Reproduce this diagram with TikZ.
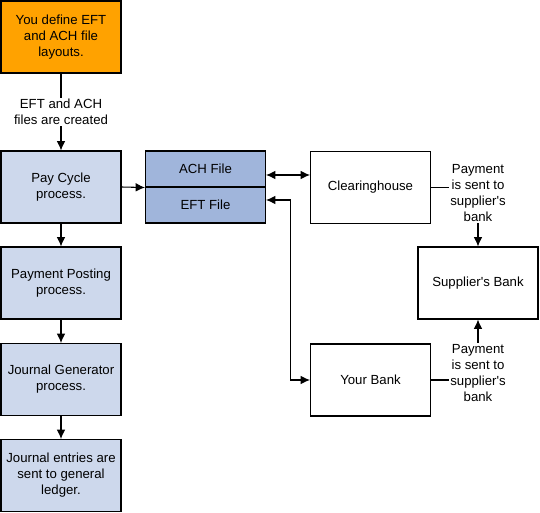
\documentclass[tikz,border=0pt]{standalone}
\usepackage{fontspec}
\setmainfont{Liberation Sans}
\usetikzlibrary{arrows, arrows.meta, calc, positioning}

\definecolor{orangebox}{RGB}{255,162,0}
\definecolor{paleblue}{RGB}{205,216,236}
\definecolor{fileblue}{RGB}{160,181,219}

\begin{document}
\begin{tikzpicture}[>={Latex[length=7pt,width=6.5pt]}, x=0.75pt, y=-0.75pt,
	font=\fontsize{9.9}{12}\selectfont]
    \tikzstyle{box} = [draw, line width=0.8pt, minimum width=90pt, minimum height=54pt,
	align=center, inner sep=0pt]
    \tikzstyle{proc} = [box, fill=paleblue]
    \tikzstyle{file} = [box, fill=fileblue, minimum height=27pt]
    \tikzstyle{note} = [fill=white, align=center, inner sep=1pt]
    \tikzstyle{link} = [line width=0.8pt]

    \useasboundingbox (0,0) rectangle (540,513);

		\path[->, link]
			node[box, fill=orangebox] (define) at (61,37) {You define EFT\\and ACH file\\layouts.}
			node[proc] (pay) at (61,187) {Pay Cycle\\process.}
			node[proc] (post) at (61,283) {Payment Posting\\process.}
			node[proc] (jgen) at (61,379.5) {Journal Generator\\process.}
			node[proc] (jent) at (61,475.5) {Journal entries are\\sent to general\\ledger.}
			node[file] (ach) at (205.5,169) {ACH File}
			node[file] (eft) at (205.5,205) {EFT File}
			node[box] (clear) at (370.5,187.5) {Clearinghouse}
			node[box] (yours) at (370.5,380) {Your Bank}
			node[box] (supp) at (478,283) {Supplier\textquotesingle s Bank}

			(define) edge node[note] {EFT and ACH\\files are created} (pay)
			(pay) edge (post)
			(post) edge (jgen)
			(jgen) edge (jent)
			(pay.east) edge (ach.south west)
		;

    % links to the banks
    \coordinate (achout) at ([yshift=-4.5pt]ach.east);
    \coordinate (eftout) at ([yshift=3.75pt]eft.east);
    \draw[<->, link] (achout) -- (achout -| clear.west);
    \draw[<->, link] (eftout) -- ++(24,0) |- (yours.west);

    \draw[->, link] (clear.east) -| node[note, yshift=-4.5pt]
	{Payment\\is sent to\\supplier\textquotesingle s\\bank} (supp.north);
    \draw[->, link] (yours.east) -| node[note, yshift=5.25pt]
	{Payment\\is sent to\\supplier\textquotesingle s\\bank} (supp.south);

\end{tikzpicture}
\end{document}
